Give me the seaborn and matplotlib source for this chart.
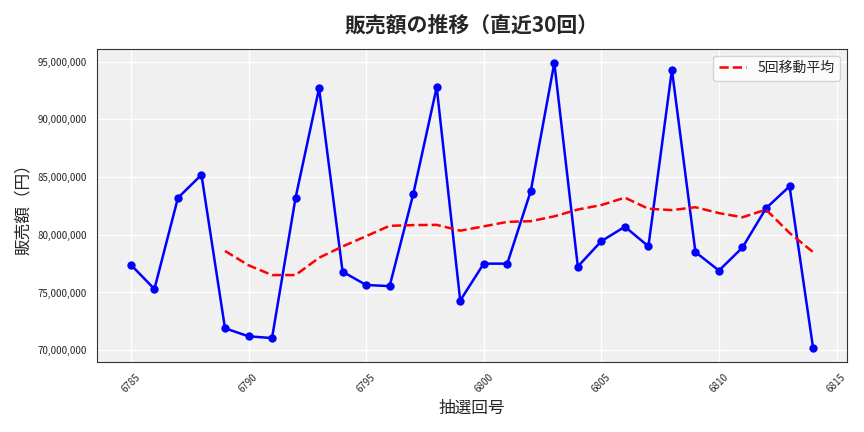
import matplotlib
matplotlib.use("Agg")
import matplotlib.pyplot as plt
import seaborn as sns
import pandas as pd
import matplotlib.ticker as mt

draws = list(range(6785, 6815))
sales = [77.4, 75.3, 83.2, 85.2, 71.9, 71.2, 71.05, 83.2, 92.7, 76.8,
         75.65, 75.55, 83.5, 92.8, 74.3, 77.5, 77.5, 83.8, 94.9, 77.25,
         79.45, 80.7, 79.0, 94.3, 78.5, 76.9, 78.9, 82.3, 84.2, 70.2]
sales = [v * 1e6 for v in sales]

df = pd.DataFrame({"draw": draws, "sales": sales})
df["ma"] = df["sales"].rolling(5).mean()

sns.set_style("whitegrid")
plt.rcParams['font.family'] = ['Noto Sans CJK JP', 'DejaVu Sans']
fig, ax = plt.subplots(figsize=(8.64, 4.32), dpi=100)
ax.set_facecolor("#f0f0f0")
ax.grid(color="white", linewidth=1)
for s in ax.spines.values():
    s.set_color("#333333"); s.set_linewidth(0.8)

sns.lineplot(data=df, x="draw", y="sales", ax=ax, color="blue", marker="o",
             markersize=6, markeredgewidth=0, linewidth=1.8)
sns.lineplot(data=df, x="draw", y="ma", ax=ax, color="red", linestyle="--",
             linewidth=1.8, label="5回移動平均")

ax.yaxis.set_major_formatter(mt.FuncFormatter(lambda v, p: f"{int(v):,}"))
ax.xaxis.set_major_locator(mt.MultipleLocator(5))
ax.tick_params(axis="x", rotation=45, labelsize=7)
ax.tick_params(axis="y", labelsize=7)
ax.set_title("販売額の推移（直近30回）", fontsize=15, fontweight="bold", pad=12)
ax.set_xlabel("抽選回号", fontsize=12)
ax.set_ylabel("販売額（円）", fontsize=12)
ax.legend(loc="upper right", fontsize=10)
fig.tight_layout()
fig.savefig("out.png", dpi=100)
